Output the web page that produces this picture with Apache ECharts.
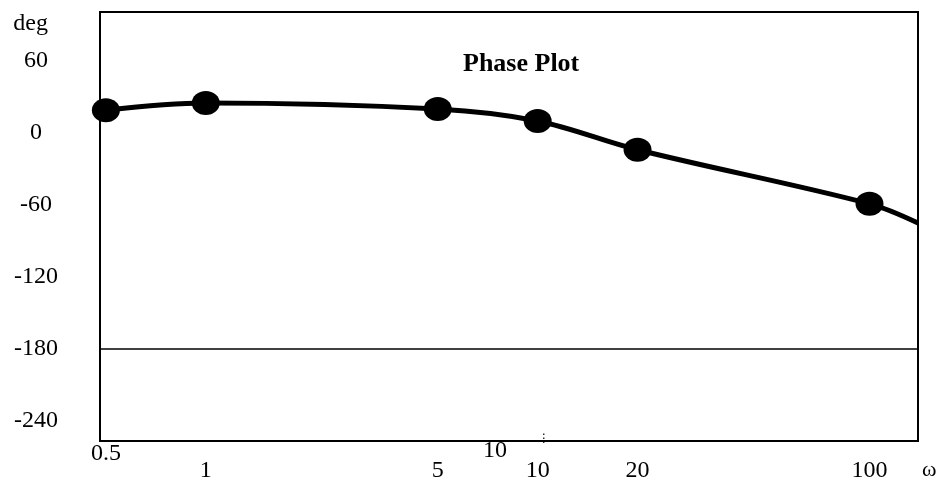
<!DOCTYPE html>
<html><head><meta charset="utf-8">
<script src="https://cdn.jsdelivr.net/npm/echarts@6/dist/echarts.min.js"></script>
<style>html,body{margin:0;padding:0;background:#fff}#c{width:940px;height:485px}</style>
</head><body><div id="c"></div>
<script>
// Data (omega in rad/s, phase in degrees)
const omega = [0.5, 1, 5, 10, 20, 100, 140];
const phase = [19, 25, 20, 10, -14, -59, -75];
const markedOmega = [0.5, 1, 5, 10, 20, 100];
const xTickValues = [1, 5, 10, 20, 100];
const xFirstTick = [0.5];
const yTickValues = [60, 0, -60, -120, -180, -240];
const refLinePhase = -180;
const titleText = 'Phase Plot';

const FONT = 'Liberation Serif';
const chart = echarts.init(document.getElementById('c'), null, {renderer: 'canvas'});

const seriesData = omega.map((w, i) => {
  const item = {value: [w, phase[i]]};
  if (markedOmega.indexOf(w) < 0) item.symbol = 'none';
  return item;
});

const xCommon = {
  type: 'log', logBase: 10, min: 0.48, max: 140, position: 'bottom',
  axisLine: {show: false}, axisTick: {show: false}, splitLine: {show: false},
  minorTick: {show: false}, minorSplitLine: {show: false}
};

chart.setOption({
  animation: false,
  backgroundColor: '#ffffff',
  title: {
    text: titleText, left: 458, top: 46,
    textStyle: {fontFamily: FONT, fontWeight: 'bold', fontSize: 26, color: '#000'}
  },
  grid: {left: 100, right: 22, top: 12, bottom: 44, show: true, containLabel: false,
         outerBoundsMode: 'none',
         borderColor: '#000', borderWidth: 2, backgroundColor: 'transparent'},
  xAxis: [
    Object.assign({}, xCommon, {
      axisLabel: {customValues: xTickValues, fontFamily: FONT, fontSize: 24, color: '#000', margin: 18,
                  formatter: v => String(Math.round(v * 100) / 100)}
    }),
    Object.assign({}, xCommon, {
      axisLabel: {customValues: xFirstTick, fontFamily: FONT, fontSize: 24, color: '#000', margin: 1,
                  formatter: v => String(Math.round(v * 100) / 100)}
    })
  ],
  yAxis: {
    type: 'value', min: -256.667, max: 100.833,
    name: 'deg', nameLocation: 'end', nameGap: -12,
    nameTextStyle: {fontFamily: FONT, fontSize: 24, color: '#000', align: 'right', verticalAlign: 'middle', padding: [0, 52, 0, 0]},
    axisLine: {show: false}, axisTick: {show: false}, splitLine: {show: false},
    axisLabel: {customValues: yTickValues, fontFamily: FONT, fontSize: 24, color: '#000', align: 'center', margin: 64}
  },
  graphic: [
    {type: 'text', left: 483, top: 439, style: {text: '10', fontFamily: FONT, fontSize: 24, fill: '#000'}},
    {type: 'text', left: 538, top: 433, style: {text: '⋮', fontFamily: 'DejaVu Sans', fontSize: 12, fill: '#000'}},
    {type: 'text', left: 922, top: 459, style: {text: 'ω', fontFamily: FONT, fontSize: 22, fill: '#000'}}
  ],
  series: [{
    type: 'line', xAxisIndex: 0, yAxisIndex: 0,
    data: seriesData, smooth: 0.35,
    symbol: 'circle', symbolSize: [28, 24], showAllSymbol: true,
    lineStyle: {color: '#000', width: 5},
    itemStyle: {color: '#000'},
    clip: false,
    markLine: {
      silent: true, symbol: ['none', 'none'], label: {show: false},
      lineStyle: {color: '#000', width: 1.5, type: 'solid'},
      data: [{yAxis: refLinePhase}]
    }
  }]
});
</script>
</body></html>
